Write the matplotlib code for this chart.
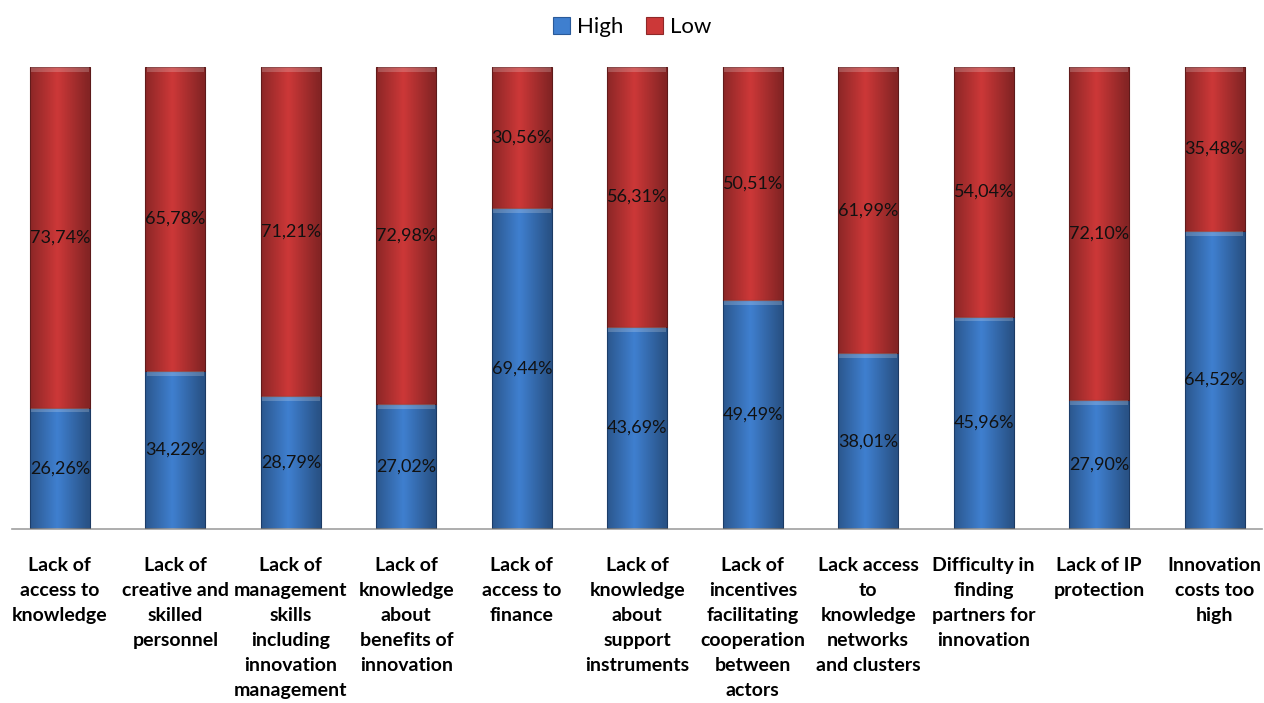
import numpy as np
import matplotlib
matplotlib.use('Agg')
import matplotlib.pyplot as plt

plt.rcParams['font.family'] = ['Lato', 'DejaVu Sans']

categories = [
    "Lack of\naccess to\nknowledge",
    "Lack of\ncreative and\nskilled\npersonnel",
    "Lack of\nmanagement\nskills\nincluding\ninnovation\nmanagement",
    "Lack of\nknowledge\nabout\nbenefits of\ninnovation",
    "Lack of\naccess to\nfinance",
    "Lack of\nknowledge\nabout\nsupport\ninstruments",
    "Lack of\nincentives\nfacilitating\ncooperation\nbetween\nactors",
    "Lack access\nto\nknowledge\nnetworks\nand clusters",
    "Difficulty in\nfinding\npartners for\ninnovation",
    "Lack of IP\nprotection",
    "Innovation\ncosts too\nhigh",
]
high = [26.26, 34.22, 28.79, 27.02, 69.44, 43.69, 49.49, 38.01, 45.96, 27.90, 64.52]
low = [73.74, 65.78, 71.21, 72.98, 30.56, 56.31, 50.51, 61.99, 54.04, 72.10, 35.48]

def fmt(v):
    return ('%.2f%%' % v).replace('.', ',')

fig = plt.figure(figsize=(12.64, 7.03), dpi=100)
ax = fig.add_axes([12 / 1264, 1 - 529 / 703, 1250 / 1264, 462 / 703])

x = np.arange(len(categories))
w = 0.52
b1 = ax.bar(x, high, w, color='#3f7fcf', edgecolor='#2a5a99', linewidth=0.8, label='High', zorder=2)
b2 = ax.bar(x, low, w, bottom=high, color='#cc3838', edgecolor='#8f2828', linewidth=0.8, label='Low', zorder=2)

# shading across each bar to mimic the bevel look
grad = np.linspace(0, 1, 64)
shade = 1 - np.abs(grad - 0.45) * 2
shade = np.clip(shade, 0, 1)
rgba = np.zeros((1, 64, 4))
rgba[..., 3] = (1 - shade) * 0.35
for p in list(b1) + list(b2):
    xx, yy = p.get_x(), p.get_y()
    im = ax.imshow(rgba, extent=[xx, xx + p.get_width(), yy, yy + p.get_height()],
                   aspect='auto', zorder=3, interpolation='bilinear')
    im.set_clip_path(p)
    # light strip on top of each segment
    ax.bar(xx + p.get_width() / 2, 1.0, p.get_width() * 0.96, bottom=yy + p.get_height() - 1.0,
           color='white', alpha=0.2, linewidth=0, zorder=3)

for i in range(len(categories)):
    ax.text(x[i], high[i] / 2, fmt(high[i]), ha='center', va='center', fontsize=13, color='#111111', zorder=4)
    ax.text(x[i], high[i] + low[i] / 2, fmt(low[i]), ha='center', va='center', fontsize=13, color='#111111', zorder=4)

ax.set_xlim(-0.415, 10.41)
ax.set_ylim(0, 100)
ax.set_xticks(x)
ax.set_xticklabels(categories, fontsize=14, fontweight='bold', linespacing=1.57)
ax.tick_params(axis='x', length=0, pad=20)
ax.set_yticks([])
for s in ['top', 'right', 'left']:
    ax.spines[s].set_visible(False)
ax.spines['bottom'].set_color('#a0a0a0')
ax.spines['bottom'].set_linewidth(1.2)

fig.legend(handles=[b1, b2], labels=['High', 'Low'], loc='center', bbox_to_anchor=(0.5, 1 - 27 / 703),
           ncol=2, frameon=False, fontsize=16, handlelength=0.8, handleheight=0.8,
           handletextpad=0.3, columnspacing=1.0)

fig.savefig('out.png', dpi=100)
